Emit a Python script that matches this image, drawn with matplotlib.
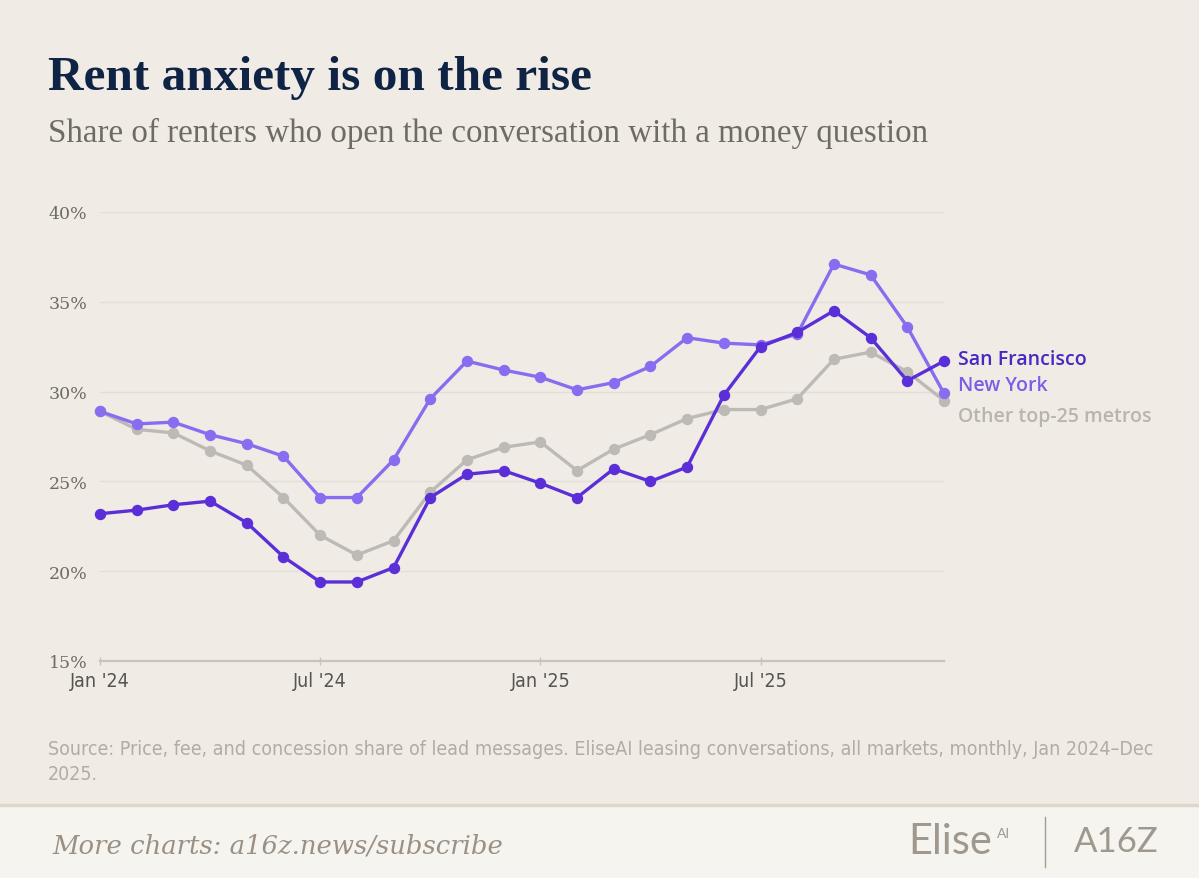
import matplotlib
matplotlib.use("Agg")
import matplotlib.pyplot as plt
from matplotlib.lines import Line2D

# monthly, Jan 2024 - Dec 2025 (share of renters, %)
months = list(range(24))
tick_pos = [0, 6, 12, 18]
tick_labels = ["Jan '24", "Jul '24", "Jan '25", "Jul '25"]

sf = [23.2, 23.4, 23.7, 23.9, 22.7, 20.8, 19.4, 19.4, 20.2, 24.1, 25.4, 25.6,
      24.9, 24.1, 25.7, 25.0, 25.8, 29.8, 32.5, 33.3, 34.5, 33.0, 30.6, 31.7]
ny = [28.9, 28.2, 28.3, 27.6, 27.1, 26.4, 24.1, 24.1, 26.2, 29.6, 31.7, 31.2,
      30.8, 30.1, 30.5, 31.4, 33.0, 32.7, 32.6, 33.2, 37.1, 36.5, 33.6, 29.9]
other = [28.9, 27.9, 27.7, 26.7, 25.9, 24.1, 22.0, 20.9, 21.7, 24.4, 26.2, 26.9,
         27.2, 25.6, 26.8, 27.6, 28.5, 29.0, 29.0, 29.6, 31.8, 32.2, 31.1, 29.5]

BG = "#f0ece5"
SF_C = "#5a2fd8"
NY_C = "#8a6cf0"
OT_C = "#bdbab5"

W, H = 1199, 879
fig = plt.figure(figsize=(W / 100, H / 100), dpi=100, facecolor=BG)

# footer band
fig.patches.append(plt.Rectangle((0, 0), 1, 73 / H, transform=fig.transFigure,
                                 facecolor="#f6f4ef", edgecolor="none", zorder=0))
fig.lines.append(Line2D([0, 1], [73 / H, 73 / H], transform=fig.transFigure,
                        color="#ddd6ca", lw=2.5))

ax = fig.add_axes([100 / W, 1 - 662 / H, 844 / W, 449 / H])
ax.set_facecolor(BG)

ax.plot(months, other, color=OT_C, lw=2.4, marker="o", ms=7.2, zorder=3, clip_on=False)
ax.plot(months, ny, color=NY_C, lw=2.4, marker="o", ms=7.2, zorder=4, clip_on=False)
ax.plot(months, sf, color=SF_C, lw=2.4, marker="o", ms=7.2, zorder=5, clip_on=False)

narrow = dict(family="DejaVu Sans", stretch="condensed")

ax.set_xlim(0, 23)
ax.set_ylim(15, 40)
ax.set_yticks([15, 20, 25, 30, 35, 40])
ax.set_yticklabels([f"{v}%" for v in [15, 20, 25, 30, 35, 40]],
                   family="DejaVu Serif", fontsize=12.5, color="#6e6a64")
ax.set_xticks(tick_pos)
ax.set_xticklabels(tick_labels, fontsize=14, color="#57534e", **narrow)
ax.tick_params(axis="y", length=0, pad=9)
ax.tick_params(axis="x", length=6, width=1, color="#c9c4bb", pad=4, direction="inout")
for s in ["top", "right", "left"]:
    ax.spines[s].set_visible(False)
ax.spines["bottom"].set_color("#c9c4bb")
ax.spines["bottom"].set_linewidth(1.6)
ax.grid(axis="y", color="#e4dfd6", lw=1)
ax.set_axisbelow(True)

# series labels
lab_font = ["Open Sans", "DejaVu Sans"]
fig.text(958 / W, 1 - 360 / H, "San Francisco", color="#4b27c2", fontsize=14,
         weight="semibold", va="center", family=lab_font)
fig.text(958 / W, 1 - 386 / H, "New York", color="#7b5de8", fontsize=14,
         weight="semibold", va="center", family=lab_font)
fig.text(958 / W, 1 - 417 / H, "Other top-25 metros", color="#b8b4ae", fontsize=14,
         weight="semibold", va="center", family=lab_font)

# titles
fig.text(48 / W, 1 - 78 / H, "Rent anxiety is on the rise", color="#0f2444",
         fontsize=35.5, weight="bold", family="Liberation Serif", va="center")
fig.text(48 / W, 1 - 133 / H, "Share of renters who open the conversation with a money question",
         color="#6e6a64", fontsize=23.8, family="Liberation Serif", va="center")

# source
fig.text(48 / W, 1 - 762 / H,
         "Source: Price, fee, and concession share of lead messages. EliseAI leasing conversations, all markets, monthly, Jan 2024\u2013Dec\n2025.",
         color="#b3aca2", fontsize=14, va="center", linespacing=1.4, **narrow)

# footer
fig.text(52 / W, 1 - 846 / H, "More charts: a16z.news/subscribe", color="#9a9084",
         fontsize=18.6, style="italic", family="DejaVu Serif", va="center")
fig.text(908 / W, 1 - 842 / H, "Elise", color="#9f988d", fontsize=30,
         family="Lato", va="center")
fig.text(997 / W, 1 - 834 / H, "AI", color="#9f988d", fontsize=10,
         family="Lato", va="center")
fig.lines.append(Line2D([1045 / W, 1045 / W], [1 - 868 / H, 1 - 818 / H],
                        transform=fig.transFigure, color="#a39c92", lw=1))
fig.text(1074 / W, 1 - 842 / H, "A16Z", color="#9f988d", fontsize=25,
         family="Lato", va="center")

fig.savefig("out.png", dpi=100, facecolor=BG)
